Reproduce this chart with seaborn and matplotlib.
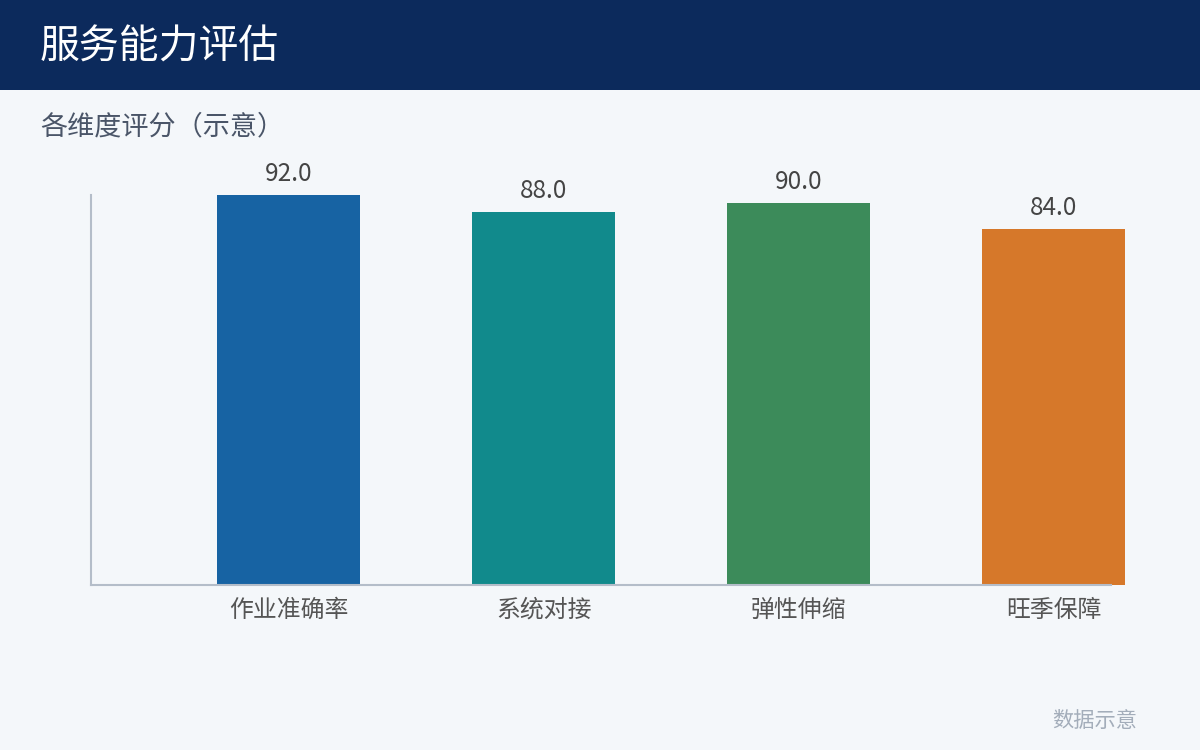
"""
Service capability bar chart.
"""

import matplotlib
matplotlib.use("Agg")
import matplotlib.pyplot as plt
from matplotlib.patches import Rectangle
import pandas as pd
import seaborn as sns

# data
categories = ["作业准确率", "系统对接", "弹性伸缩", "旺季保障"]
scores = [92.0, 88.0, 90.0, 84.0]
colors = ["#1763A3", "#118A8C", "#3C8B5A", "#D6782A"]

title = "服务能力评估"
subtitle = "各维度评分（示意）"
footer = "数据示意"

sns.set_theme(style="white")
plt.rcParams["font.family"] = ["Noto Sans CJK SC", "DejaVu Sans"]

bg = "#F4F7FA"
df = pd.DataFrame({"dim": categories, "score": scores})

fig = plt.figure(figsize=(12, 7.5), dpi=100, facecolor=bg)

# header band
fig.patches.append(Rectangle((0, 1 - 90 / 750), 1, 90 / 750, transform=fig.transFigure,
                             facecolor="#0C2A5C", edgecolor="none", zorder=0))
fig.text(40 / 1200, 1 - 48 / 750, title, color="white", fontsize=28.7, va="center", ha="left")
fig.text(40 / 1200, 1 - 127 / 750, subtitle, color="#4A5568", fontsize=19.5, va="center", ha="left")
fig.text(1137 / 1200, 1 - 721 / 750, footer, color="#A3ADBA", fontsize=15.3, va="center", ha="right")

ax = fig.add_axes([91 / 1200, 1 - 585 / 750, 1020 / 1200, 390 / 750])
ax.set_facecolor(bg)

sns.barplot(data=df, x="dim", y="score", hue="dim", palette=colors, width=0.56,
            dodge=False, legend=False, saturation=1, ax=ax)

for bar in ax.patches:
    bar.set_clip_on(False)
    bar.set_edgecolor("none")

for i, v in enumerate(scores):
    ax.annotate(f"{v:.1f}", xy=(i, v), xytext=(0, 6), textcoords="offset points",
                ha="center", va="bottom", fontsize=17.5, color="#444444", annotation_clip=False)

ax.set_xlim(-0.775, 3.225)
ax.set_ylim(0, 92)
ax.set_xlabel("")
ax.set_ylabel("")
ax.set_yticks([])
ax.tick_params(axis="x", length=0, pad=10, labelsize=17.2, labelcolor="#555555")

sns.despine(ax=ax, top=True, right=True)
for side in ["left", "bottom"]:
    ax.spines[side].set_color("#B4BDC9")
    ax.spines[side].set_linewidth(1.5)

fig.savefig("out.png", dpi=100, facecolor=bg)
